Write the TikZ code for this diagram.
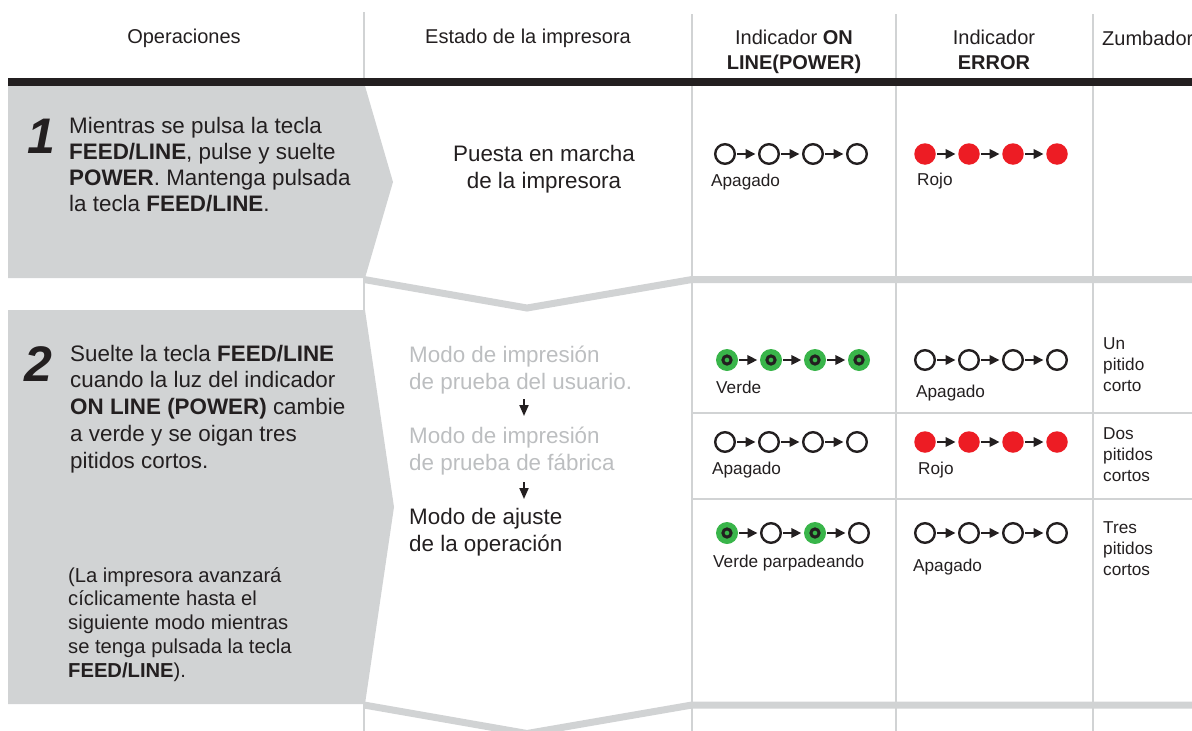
\documentclass[tikz,border=0pt]{standalone}
\usepackage{fontspec}
\setmainfont{Liberation Sans}
\usetikzlibrary{arrows.meta}
\definecolor{boxgray}{RGB}{209,211,212}
\definecolor{inkblack}{RGB}{35,31,32}
\definecolor{softtext}{RGB}{188,190,192}
\definecolor{ledred}{RGB}{237,28,36}
\definecolor{ledgreen}{RGB}{57,181,74}
\tikzset{
  divline/.style={draw=boxgray, line width=2pt},
  sepline/.style={draw=boxgray, line width=7pt},
  hdr/.style={inner sep=0pt, text=inkblack, font=\fontsize{20}{25}\selectfont},
  bodytxt/.style={inner sep=0pt, text=inkblack, font=\fontsize{22.4}{26.7}\selectfont},
  paratxt/.style={inner sep=0pt, text=inkblack, font=\fontsize{20.2}{23.75}\selectfont},
  smalltxt/.style={inner sep=0pt, text=inkblack, font=\fontsize{17.2}{21}\selectfont},
  numtxt/.style={inner sep=0pt, text=inkblack, font=\fontsize{50}{50}\selectfont\bfseries\itshape},
  ledoff/.style={circle, draw=inkblack, line width=2.4pt, fill=white, minimum size=19.6pt, inner sep=0pt},
  ledon/.style={circle, fill=ledred, minimum size=21.5pt, inner sep=0pt},
  ledgo/.style={circle, fill=ledgreen, minimum size=22pt, inner sep=0pt,
    path picture={\draw[line width=3pt, draw=inkblack, fill=ledgreen] (path picture bounding box.center) circle (4.1pt);}},
  ledarrow/.style={draw=inkblack, line width=2pt, shorten <=1pt, shorten >=2.5pt, -{Triangle[length=10pt,width=9.5pt]}},
  downarrow/.style={draw=inkblack, line width=2pt, -{Triangle[length=11pt,width=9pt]}}
}
\newcommand{\LedRow}[7]{%
  \node[#4] (#1-1) at (#2,#3) {};
  \node[#5] (#1-2) at (#2+44,#3) {};
  \node[#6] (#1-3) at (#2+88,#3) {};
  \node[#7] (#1-4) at (#2+132,#3) {};
  \draw[ledarrow] (#1-1) -- (#1-2);
  \draw[ledarrow] (#1-2) -- (#1-3);
  \draw[ledarrow] (#1-3) -- (#1-4);
}
\begin{document}
\begin{tikzpicture}[x=1pt,y=-1pt]
\useasboundingbox (0,0) rectangle (1192,731);
% vertical dividers
\draw[divline] (364,12) -- (364,731);
\draw[divline] (692,14) -- (692,731);
\draw[divline] (896,14) -- (896,731);
\draw[divline] (1093,14) -- (1093,731);
% thin row separators
\draw[divline] (692,413) -- (1192,413);
\draw[divline] (692,499) -- (1192,499);
% chevron separators
\draw[sepline, line join=miter] (364,279.5) -- (527,308) -- (692,279.5) -- (1192,279.5);
\draw[sepline, line join=miter] (364,705) -- (527,733.5) -- (692,705) -- (1192,705);
% step boxes
\fill[boxgray] (8,86) -- (365,86) -- (393,182) -- (365,278) -- (8,278) -- cycle;
\fill[boxgray] (8,310) -- (365,310) -- (394,507) -- (365,704) -- (8,704) -- cycle;
% header rule
\draw[draw=inkblack, line width=8pt] (8,82) -- (1192,82);
% header texts (multi-line nodes: base = last line)
\node[hdr, anchor=base] (hOp) at (184,43) {Operaciones};
\node[hdr, anchor=base] (hEst) at (528,43) {Estado de la impresora};
\node[hdr, anchor=base, align=center] (hOn) at (794,69) {Indicador \textbf{ON}\\\textbf{LINE(POWER)}};
\node[hdr, anchor=base, align=center] (hErr) at (994,69) {Indicador\\\textbf{ERROR}};
\node[hdr, anchor=base west] (hZum) at (1102,45) {Zumbador};
% step 1
\node[numtxt, anchor=base west] (n1) at (27,153) {1};
\node[bodytxt, font=\fontsize{22.4}{26}\selectfont, anchor=base west, align=left] (s1) at (69,211) {Mientras se pulsa la tecla\\\textbf{FEED/LINE}, pulse y suelte\\\textbf{POWER}. Mantenga pulsada\\la tecla \textbf{FEED/LINE}.};
\node[bodytxt, anchor=base, align=center] (st1) at (544,188) {Puesta en marcha\\de la impresora};
% step 2
\node[numtxt, anchor=base west] (n2) at (24,381) {2};
\node[bodytxt, anchor=base west, align=left] (s2) at (70,468) {Suelte la tecla \textbf{FEED/LINE}\\cuando la luz del indicador\\\textbf{ON LINE (POWER)} cambie\\a verde y se oigan tres\\pitidos cortos.};
\node[paratxt, anchor=base west, align=left] (p2) at (68,677) {(La impresora avanzará\\cíclicamente hasta el\\siguiente modo mientras\\se tenga pulsada la tecla\\\textbf{FEED/LINE}).};
\node[bodytxt, text=softtext, anchor=base west, align=left] (m1) at (409,389) {Modo de impresión\\de prueba del usuario.};
\node[bodytxt, text=softtext, anchor=base west, align=left] (m2) at (409,470) {Modo de impresión\\de prueba de fábrica};
\node[bodytxt, anchor=base west, align=left] (m3) at (409,551) {Modo de ajuste\\de la operación};
\coordinate (a1s) at (524,399);
\coordinate (a1e) at (524,416);
\coordinate (a2s) at (524,482);
\coordinate (a2e) at (524,499);
\draw[downarrow] (a1s) -- (a1e);
\draw[downarrow] (a2s) -- (a2e);
% LEDs row 1
\LedRow{ra}{725}{154}{ledoff}{ledoff}{ledoff}{ledoff}
\LedRow{rb}{925}{154}{ledon}{ledon}{ledon}{ledon}
\node[smalltxt, anchor=base west] (la) at (711,186) {Apagado};
\node[smalltxt, anchor=base west] (lb) at (917,185) {Rojo};
% row 2a
\LedRow{rc}{727}{360}{ledgo}{ledgo}{ledgo}{ledgo}
\LedRow{rd}{925}{360}{ledoff}{ledoff}{ledoff}{ledoff}
\node[smalltxt, anchor=base west] (lc) at (716,393) {Verde};
\node[smalltxt, anchor=base west] (ld) at (916,397) {Apagado};
\node[smalltxt, anchor=base west, align=left] (bz1) at (1103,391) {Un\\pitido\\corto};
% row 2b
\LedRow{re}{725}{442}{ledoff}{ledoff}{ledoff}{ledoff}
\LedRow{rf}{925}{442}{ledon}{ledon}{ledon}{ledon}
\node[smalltxt, anchor=base west] (le) at (712,474) {Apagado};
\node[smalltxt, anchor=base west] (lf) at (918,474) {Rojo};
\node[smalltxt, anchor=base west, align=left] (bz2) at (1103,481) {Dos\\pitidos\\cortos};
% row 2c
\LedRow{rg}{727}{533}{ledgo}{ledoff}{ledgo}{ledoff}
\LedRow{rh}{925}{533}{ledoff}{ledoff}{ledoff}{ledoff}
\node[smalltxt, anchor=base west] (lg) at (713,567) {Verde parpadeando};
\node[smalltxt, anchor=base west] (lh) at (913,571) {Apagado};
\node[smalltxt, anchor=base west, align=left] (bz3) at (1103,575) {Tres\\pitidos\\cortos};
\end{tikzpicture}
\end{document}
